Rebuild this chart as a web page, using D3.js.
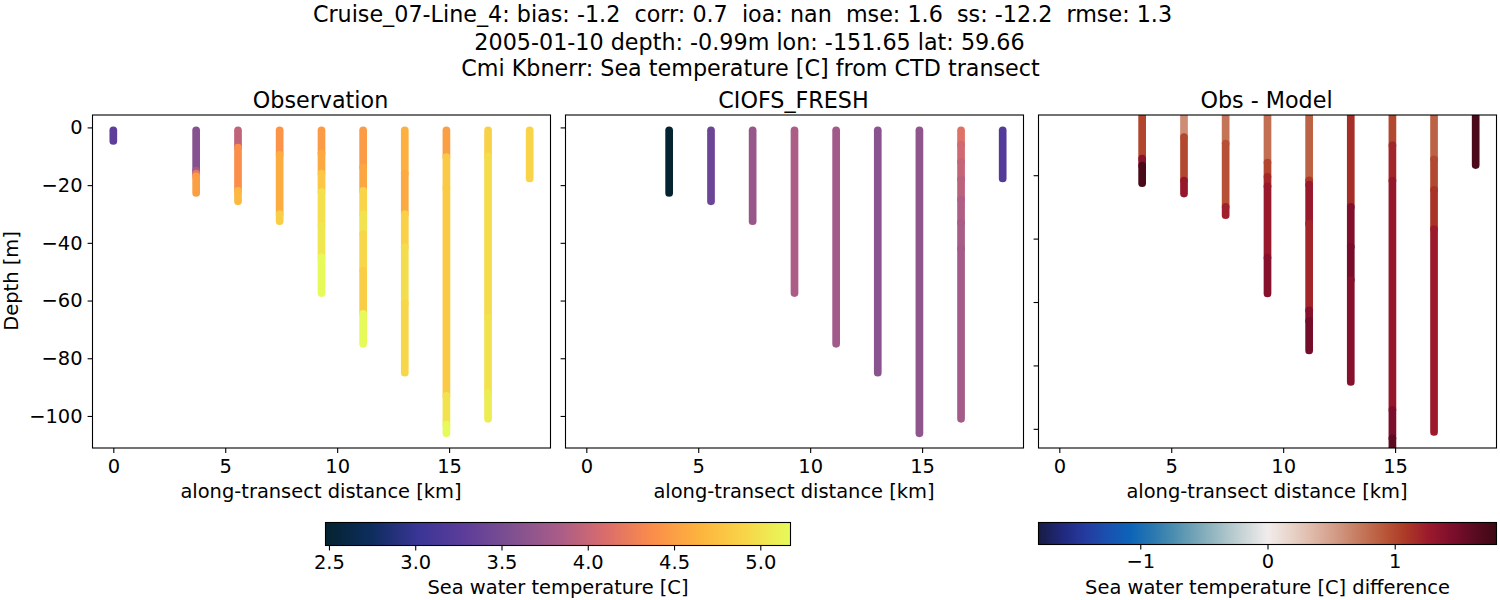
<!DOCTYPE html>
<html><head><meta charset="utf-8">
<script src="https://cdnjs.cloudflare.com/ajax/libs/d3/7.8.5/d3.min.js"></script>
<style>html,body{margin:0;padding:0;background:#fff}svg{display:block}text{font-family:"DejaVu Sans";fill:#000;white-space:pre}</style>
</head><body><svg id="c" width="1500" height="600"></svg>
<script>
const titleLines = [
 "Cruise_07-Line_4: bias: -1.2  corr: 0.7  ioa: nan  mse: 1.6  ss: -12.2  rmse: 1.3",
 "2005-01-10 depth: -0.99m lon: -151.65 lat: 59.66",
 "Cmi Kbnerr: Sea temperature [C] from CTD transect"];
const panelTitles = ["Observation","CIOFS_FRESH","Obs - Model"];
const xTicks = [0,5,10,15];
const yTicks = [0,-20,-40,-60,-80,-100];
const yTicksDiff = [-20,-40,-60,-80,-100];
const cbTicks = [2.5,3,3.5,4,4.5,5];
const cbDiffTicks = [-1,0,1];
const thermalStops = ["#04232f","#0e2d5e","#3a3596","#5d3d9a","#7f5090","#a85c88","#d96c6c","#fa8c4b","#fdb23e","#f9d448","#e6fb5a"];
const balanceStops = ["#181c43","#20287a","#253a9e","#1a50b0","#0c64b8","#2a78b0","#4f90b0","#7aa8b8","#a3bfc6","#cbd6d8","#f1ecec","#e8d4ca","#dfb8a8","#d29a84","#c67a5e","#ba5a3c","#ad3a26","#9c1a2c","#7f0e2c","#5c0b22","#3c0912"];

const obsKm   = [0,3.7,5.57,7.43,9.3,11.16,13.02,14.88,16.74,18.6];
const modelKm = [3.7,5.57,7.43,9.3,11.16,13.02,14.88,16.74,18.6];
const diffKm  = modelKm;

const obsDepths = [
 [-1,-4.7],
 [-1,-15,-16,-17,-22.7],
 [-1,-7,-22,-25.6],
 [-1,-9.5,-30,-32.5],
 [-1,-9,-16,-22.4,-34,-45,-57.4],
 [-1,-13.8,-22,-30,-37,-49.6,-64.6,-75],
 [-1,-16,-30,-41.5,-61,-85],
 [-1,-10.3,-21,-93,-103,-106],
 [-1,-10,-66,-92,-101],
 [-1,-17.7]];
const obsTemps = [
 [3.3],
 [3.6,3.8,4.2,4.5],
 [3.96,4.38,4.68],
 [4.42,4.6,4.85],
 [4.47,4.57,4.8,4.98,5.03,5.17],
 [4.47,4.55,4.9,5.0,4.92,4.85,5.17],
 [4.62,4.57,4.87,4.97,4.92],
 [4.5,4.82,4.83,5.0,5.17],
 [4.88,4.96,5.0,5.07],
 [4.9]];

const modelDepths = [
 [-1,-22.7],[-1,-25.6],[-1,-32.5],[-1,-57.4],[-1,-75],[-1,-85],[-1,-106],
 [-1,-6,-12,-18,-25,-33,-42,-101],
 [-1,-17.7]];
const modelTemps = [
 [2.5],[3.4],[3.72],[3.85],[3.78],[3.62],[3.66],
 [4.15,4.05,3.98,3.93,3.87,3.83,3.8],
 [3.22]];

const diffDepths = [
 [-1,-14.8,-17,-22.5],
 [-1,-8,-21.7,-25.8],
 [-1,-10,-30,-32.6],
 [-1,-16,-20.5,-23.5,-46,-57.3],
 [-1,-21.6,-23,-35.3,-62.6,-66,-75.3],
 [-1,-30,-42.6,-53,-85.2],
 [-1,-10.6,-21.7,-94,-103,-106],
 [-1,-15,-24.6,-37,-101],
 [-1,-16.8]];
const diffTemps = [
 [1.02,1.38,1.72],
 [0.62,1.0,1.3],
 [0.75,0.95,1.22],
 [0.78,1.02,1.18,1.28,1.4],
 [0.85,1.08,1.28,1.2,1.4,1.5],
 [1.15,1.42,1.48,1.4],
 [1.0,1.2,1.3,1.45,1.62],
 [0.85,1.0,1.12,1.26],
 [1.72]];

const svg = d3.select("#c");
const FS = 19.44;
const stopPos = a => a.map((_,i)=>i/(a.length-1));
const ramp = (stops,lo,hi) => d3.scaleLinear()
  .domain(stopPos(stops).map(t=>lo+t*(hi-lo))).range(stops).interpolate(d3.interpolateRgb).clamp(true);
const thermal = ramp(thermalStops,2.48,5.175);
const balance = ramp(balanceStops,-1.8,1.8);

titleLines.forEach((t,i)=>svg.append("text").attr("x",[742.5,749.5,750.5][i]).attr("y",[22,50,75.5][i])
  .attr("text-anchor","middle").style("font-size","22.25px").text(t));

const panels = [
 {x0:92.5, km:obsKm,  dep:obsDepths,  val:obsTemps,  col:thermal, yDom:[4.3,-111.1], yT:yTicks, lab:true},
 {x0:565.5,km:modelKm,dep:modelDepths,val:modelTemps,col:thermal, yDom:[4.3,-111.1], yT:yTicks, lab:false},
 {x0:1038.5,km:diffKm,dep:diffDepths, val:diffTemps, col:balance, yDom:[-1.01,-106.05], yT:yTicksDiff, lab:false}];
const W=458, T=115, B=448;

panels.forEach((p,i)=>{
  const x = d3.scaleLinear().domain([-0.93,19.53]).range([p.x0,p.x0+W]);
  const y = d3.scaleLinear().domain(p.yDom).range([T,B]);
  const g = svg.append("g");
  const id="clip"+i;
  svg.append("clipPath").attr("id",id).append("rect").attr("x",p.x0).attr("y",T).attr("width",W).attr("height",B-T);
  const marks = g.append("g").attr("clip-path",`url(#${id})`);
  const line = d3.line().x(d=>x(d[0])).y(d=>y(d[1]));
  p.km.forEach((km,s)=>{
    p.val[s].forEach((v,k)=>{
      marks.append("path").attr("d",line([[km,p.dep[s][k]],[km,p.dep[s][k+1]]]))
        .attr("fill","none").attr("stroke",p.col(v)).attr("stroke-width",7.7).attr("stroke-linecap","round");
    });
  });
  const ax = g.append("g").attr("transform",`translate(0,${B})`).call(d3.axisBottom(x).tickValues(xTicks).tickFormat(d3.format("d")).tickSize(4.9).tickPadding(6));
  const ay = g.append("g").attr("transform",`translate(${p.x0},0)`).call(d3.axisLeft(y).tickValues(p.yT).tickSize(4.9).tickPadding(5).tickFormat(p.lab?d3.format("d"):""));
  [ax,ay].forEach(a=>{a.select(".domain").remove();a.selectAll("line").attr("stroke","#000").attr("stroke-width",1.1);
    a.selectAll("text").style("font-size",FS+"px").attr("font-family","DejaVu Sans");});
  g.append("rect").attr("x",p.x0).attr("y",T).attr("width",W).attr("height",B-T).attr("fill","none").attr("stroke","#000").attr("stroke-width",1.1);
  g.append("text").attr("x",p.x0+W/2-1).attr("y",108).attr("text-anchor","middle").style("font-size","22.25px").text(panelTitles[i]);
  g.append("text").attr("x",p.x0+W/2-0.5).attr("y",498).attr("text-anchor","middle").style("font-size",FS+"px").text("along-transect distance [km]");
});
svg.append("text").attr("transform","translate(18,281) rotate(-90)").attr("text-anchor","middle").style("font-size",FS+"px").text("Depth [m]");

const defs = svg.append("defs");
function colorbar(id,stops,x0,x1,top,bot,dom,ticks,fmt,label){
  const grad = defs.append("linearGradient").attr("id",id).attr("x1","0").attr("x2","1").attr("y1","0").attr("y2","0");
  stops.forEach((c,i)=>grad.append("stop").attr("offset",i/(stops.length-1)).attr("stop-color",c));
  const x = d3.scaleLinear().domain(dom).range([x0,x1]);
  svg.append("rect").attr("x",x0).attr("y",top).attr("width",x1-x0).attr("height",bot-top).attr("fill",`url(#${id})`).attr("stroke","#000").attr("stroke-width",1.1);
  const a = svg.append("g").attr("transform",`translate(0,${bot})`).call(d3.axisBottom(x).tickValues(ticks).tickFormat(fmt).tickSize(4.9).tickPadding(5));
  a.select(".domain").remove();
  a.selectAll("line").attr("stroke","#000").attr("stroke-width",1.1);
  a.selectAll("text").style("font-size",FS+"px").attr("font-family","DejaVu Sans");
  svg.append("text").attr("x",(x0+x1)/2).attr("y",594).attr("text-anchor","middle").style("font-size",FS+"px").text(label);
}
colorbar("gT",thermalStops,325.5,790.5,522.5,545.5,[2.48,5.175],cbTicks,d3.format(".1f"),"Sea water temperature [C]");
colorbar("gB",balanceStops,1038.5,1496.5,522.5,544.5,[-1.8,1.8],cbDiffTicks,d3.format("d"),"Sea water temperature [C] difference");
</script></body></html>
